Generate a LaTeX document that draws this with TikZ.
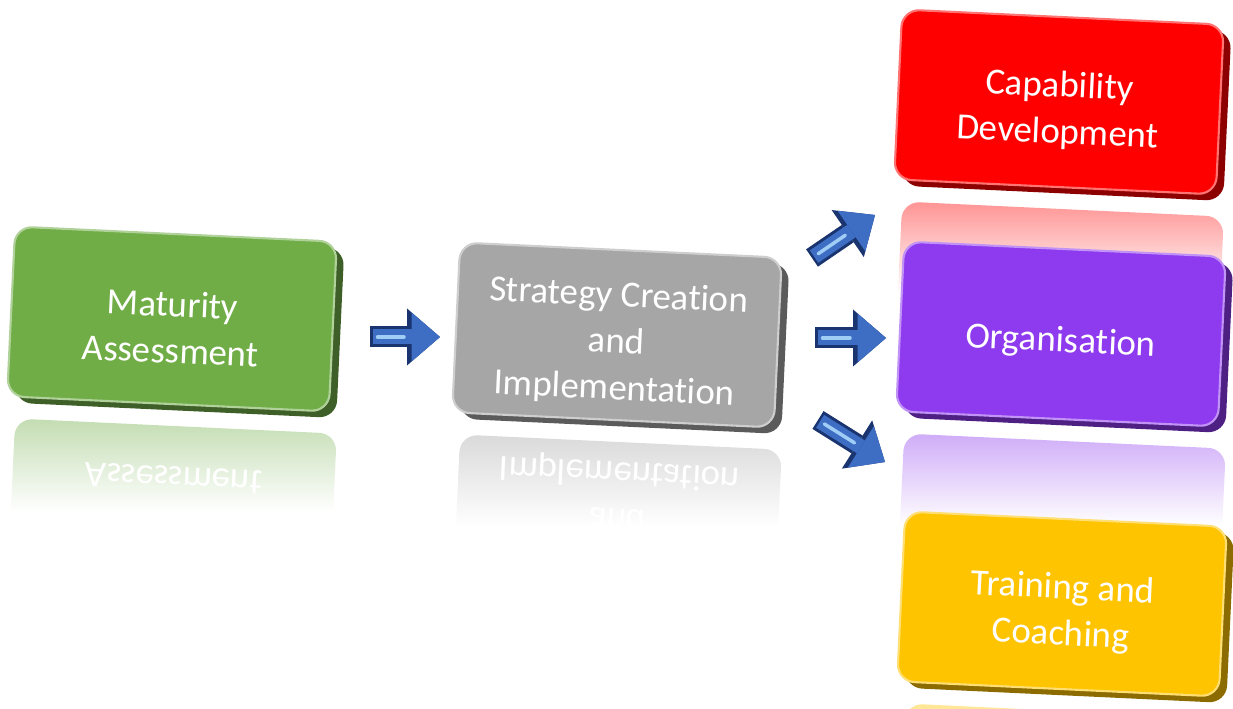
\documentclass[tikz,border=0pt]{standalone}
\usepackage{fontspec}
\setmainfont{Carlito}[RawFeature={-liga;-clig;-calt;-dlig}]
\usepackage{tikz}
\usetikzlibrary{arrows.meta,shadows}
\definecolor{mmgreen}{RGB}{112,173,71}
\definecolor{mmgray}{RGB}{166,166,166}
\definecolor{mmred}{RGB}{255,0,0}
\definecolor{mmpurple}{RGB}{142,58,238}
\definecolor{mmgold}{RGB}{255,196,0}
\definecolor{mmblue}{RGB}{62,110,196}
\definecolor{mmbluedk}{RGB}{26,52,112}
\definecolor{mmbluelt}{RGB}{160,205,245}
\newcommand{\phasestrut}{\rule{0pt}{24pt}}
\tikzstyle{phase} = [rectangle, rounded corners=0.35cm, minimum width=6.44cm, minimum height=3.4cm, text centered, align=center, text=white, font=\fontsize{21}{26.5}\selectfont, rotate=-2.7]
\tikzset{
  phasebox/.style={phase, fill=#1, draw=#1!55!white, line width=1.2pt,
    general shadow={shadow xshift=0.15cm, shadow yshift=-0.13cm, fill=#1!55!black}},
  mirror/.style={phase, yscale=-1, top color=#1!42!white, bottom color=white, middle color=white}
}
\tikzstyle{flowedge} = [line width=0.42cm, color=mmbluedk, -{Triangle[width=1.14cm,length=0.66cm,line width=0pt]}]
\tikzstyle{flowbody} = [line width=0.3cm, color=mmblue, shorten <=0.05cm, -{Triangle[width=0.98cm,length=0.57cm,line width=0pt]}]
\tikzstyle{flowshine} = [line width=0.07cm, color=mmbluelt, line cap=round, shorten <=0.15cm, shorten >=0.72cm]
\begin{document}
\begin{tikzpicture}
    \useasboundingbox (0,0) rectangle (24.66,14.18);

    % Reflections
    \node[mirror=mmgreen] (matrefl) at (3.44, 3.96) {\phasestrut Maturity\\Assessment};
    \node[mirror=mmgray] (stratrefl) at (12.34, 3.64) {\phasestrut Strategy Creation\\and\\Implementation};
    \node[mirror=mmred] (caprefl) at (21.18, 8.3) {};
    \node[mirror=mmpurple] (orgrefl) at (21.22, 3.66) {};
    \node[mirror=mmgold] (trainrefl) at (21.24, -1.74) {};

    % Phases
    \node[phasebox=mmgreen] (mat) at (3.44, 7.8) {\phasestrut Maturity\\Assessment};
    \node[phasebox=mmgray] (strat) at (12.34, 7.48) {\phasestrut Strategy Creation\\and\\Implementation};
    \node[phasebox=mmred] (cap) at (21.18, 12.14) {\phasestrut Capability\\Development};
    \node[phasebox=mmpurple] (org) at (21.22, 7.5) {\phasestrut Organisation};
    \node[phasebox=mmgold] (train) at (21.24, 2.1) {\phasestrut Training and\\Coaching};

    % Arrows
    \coordinate (a1s) at (7.4, 7.44);
    \coordinate (a1e) at (8.8, 7.44);
    \coordinate (a2s) at (16.24, 9.02);
    \coordinate (a2e) at (17.5, 9.88);
    \coordinate (a3s) at (16.3, 7.42);
    \coordinate (a3e) at (17.72, 7.42);
    \coordinate (a4s) at (16.36, 5.78);
    \coordinate (a4e) at (17.7, 4.94);
    \foreach \s/\e in {a1s/a1e, a2s/a2e, a3s/a3e, a4s/a4e} {
        \draw[flowedge] (\s) -- (\e);
        \draw[flowbody] (\s) -- (\e);
        \draw[flowshine] (\s) -- (\e);
    }
\end{tikzpicture}
\end{document}
